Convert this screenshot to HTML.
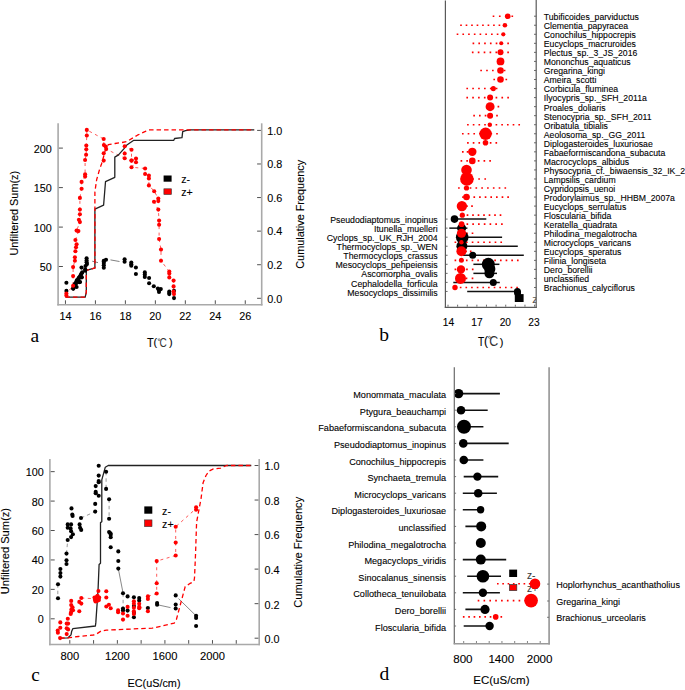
<!DOCTYPE html>
<html><head><meta charset="utf-8"><style>
html,body{margin:0;padding:0;background:#fff;}
body{width:685px;height:690px;overflow:hidden;}
svg{display:block;}
</style></head><body>
<svg width="685" height="690" viewBox="0 0 685 690">
<rect width="685" height="690" fill="#fff"/>
<line x1="58.1" y1="123.3" x2="58.1" y2="305.5" stroke="#a9a9a9" stroke-width="1.6" />
<line x1="57.3" y1="304.7" x2="262.5" y2="304.7" stroke="#a9a9a9" stroke-width="1.6" />
<line x1="261.7" y1="123.3" x2="261.7" y2="305.5" stroke="#a9a9a9" stroke-width="1.6" />
<line x1="58.9" y1="266.5" x2="62.9" y2="266.5" stroke="#505050" stroke-width="1" />
<text x="51.8" y="270.9" font-family='"Liberation Sans", sans-serif' font-size="10.8" text-anchor="end" fill="#000" stroke="#000" stroke-width="0.1" >50</text>
<line x1="58.9" y1="227.1" x2="62.9" y2="227.1" stroke="#505050" stroke-width="1" />
<text x="51.8" y="231.5" font-family='"Liberation Sans", sans-serif' font-size="10.8" text-anchor="end" fill="#000" stroke="#000" stroke-width="0.1" >100</text>
<line x1="58.9" y1="187.6" x2="62.9" y2="187.6" stroke="#505050" stroke-width="1" />
<text x="51.8" y="192" font-family='"Liberation Sans", sans-serif' font-size="10.8" text-anchor="end" fill="#000" stroke="#000" stroke-width="0.1" >150</text>
<line x1="58.9" y1="148.1" x2="62.9" y2="148.1" stroke="#505050" stroke-width="1" />
<text x="51.8" y="152.5" font-family='"Liberation Sans", sans-serif' font-size="10.8" text-anchor="end" fill="#000" stroke="#000" stroke-width="0.1" >200</text>
<line x1="257.1" y1="298.3" x2="260.9" y2="298.3" stroke="#505050" stroke-width="1" />
<text x="267.3" y="302.5" font-family='"Liberation Sans", sans-serif' font-size="10.8" text-anchor="start" fill="#000" stroke="#000" stroke-width="0.1" >0.0</text>
<line x1="257.1" y1="264.72" x2="260.9" y2="264.72" stroke="#505050" stroke-width="1" />
<text x="267.3" y="268.92" font-family='"Liberation Sans", sans-serif' font-size="10.8" text-anchor="start" fill="#000" stroke="#000" stroke-width="0.1" >0.2</text>
<line x1="257.1" y1="231.14" x2="260.9" y2="231.14" stroke="#505050" stroke-width="1" />
<text x="267.3" y="235.34" font-family='"Liberation Sans", sans-serif' font-size="10.8" text-anchor="start" fill="#000" stroke="#000" stroke-width="0.1" >0.4</text>
<line x1="257.1" y1="197.56" x2="260.9" y2="197.56" stroke="#505050" stroke-width="1" />
<text x="267.3" y="201.76" font-family='"Liberation Sans", sans-serif' font-size="10.8" text-anchor="start" fill="#000" stroke="#000" stroke-width="0.1" >0.6</text>
<line x1="257.1" y1="163.98" x2="260.9" y2="163.98" stroke="#505050" stroke-width="1" />
<text x="267.3" y="168.18" font-family='"Liberation Sans", sans-serif' font-size="10.8" text-anchor="start" fill="#000" stroke="#000" stroke-width="0.1" >0.8</text>
<line x1="257.1" y1="130.4" x2="260.9" y2="130.4" stroke="#505050" stroke-width="1" />
<text x="267.3" y="134.6" font-family='"Liberation Sans", sans-serif' font-size="10.8" text-anchor="start" fill="#000" stroke="#000" stroke-width="0.1" >1.0</text>
<line x1="65.45" y1="303.9" x2="65.45" y2="300.3" stroke="#505050" stroke-width="1" />
<text x="65.45" y="320.4" font-family='"Liberation Sans", sans-serif' font-size="10.8" text-anchor="middle" fill="#000" stroke="#000" stroke-width="0.1" >14</text>
<line x1="95.42" y1="303.9" x2="95.42" y2="300.3" stroke="#505050" stroke-width="1" />
<text x="95.42" y="320.4" font-family='"Liberation Sans", sans-serif' font-size="10.8" text-anchor="middle" fill="#000" stroke="#000" stroke-width="0.1" >16</text>
<line x1="125.39" y1="303.9" x2="125.39" y2="300.3" stroke="#505050" stroke-width="1" />
<text x="125.39" y="320.4" font-family='"Liberation Sans", sans-serif' font-size="10.8" text-anchor="middle" fill="#000" stroke="#000" stroke-width="0.1" >18</text>
<line x1="155.36" y1="303.9" x2="155.36" y2="300.3" stroke="#505050" stroke-width="1" />
<text x="155.36" y="320.4" font-family='"Liberation Sans", sans-serif' font-size="10.8" text-anchor="middle" fill="#000" stroke="#000" stroke-width="0.1" >20</text>
<line x1="185.33" y1="303.9" x2="185.33" y2="300.3" stroke="#505050" stroke-width="1" />
<text x="185.33" y="320.4" font-family='"Liberation Sans", sans-serif' font-size="10.8" text-anchor="middle" fill="#000" stroke="#000" stroke-width="0.1" >22</text>
<line x1="215.3" y1="303.9" x2="215.3" y2="300.3" stroke="#505050" stroke-width="1" />
<text x="215.3" y="320.4" font-family='"Liberation Sans", sans-serif' font-size="10.8" text-anchor="middle" fill="#000" stroke="#000" stroke-width="0.1" >24</text>
<line x1="245.27" y1="303.9" x2="245.27" y2="300.3" stroke="#505050" stroke-width="1" />
<text x="245.27" y="320.4" font-family='"Liberation Sans", sans-serif' font-size="10.8" text-anchor="middle" fill="#000" stroke="#000" stroke-width="0.1" >26</text>
<text transform="translate(18.4,213.2) rotate(-90)" font-family='"Liberation Sans", sans-serif' font-size="10.9" text-anchor="middle" fill="#000" stroke="#000" stroke-width="0.1">Unfiltered Sum(z)</text>
<text transform="translate(304.2,214.3) rotate(-90)" font-family='"Liberation Sans", sans-serif' font-size="10.9" text-anchor="middle" fill="#000" stroke="#000" stroke-width="0.1">Cumulative Frequency</text>
<polyline points="66.4,295.5 66.4,293.6 73.1,285.8 73.1,276.1 73.1,267.1 74.9,260.7 74.9,257.2 75.4,251.3 76,247.2 76.6,244.3 75.4,240 78.4,231.1 76.6,230.6 79.9,222.1 78.9,219.8 79.9,214.3 79.9,209.6 79.9,197.9 81.6,188.7 81.6,181.9 85.1,176.6 85.1,174.3 85.1,160 86.1,154.8 86.3,149.2 86.3,145.5 86.8,135.5 86.8,129.9 103.7,139 103.9,145.1 105.7,146.5 106.2,149.1 124.7,158.2 124.7,153.5 124.7,146.3 131.5,149.8 131.5,160.6 136,158.6 136,162.2 131.5,167.2 145.1,168.5 145.1,174 148.9,175.5 148.9,178.4 148.9,185.4 154.2,191.2 158.3,198.5 158.3,201.1 154,201.7 158.3,209.6 159.1,220.6 159.1,224.8 159.1,239 161,249.6 161,260.7 169.3,271.6 169.3,273.4 169.3,277.4 173.6,280.6 173.6,286.4 173.6,291.5 174,294.1" fill="none" stroke="#ff0000" stroke-width="0.65" stroke-linejoin="round" stroke-dasharray="3 3.5"/>
<polyline points="92.2,261.2 98,262.6" fill="none" stroke="#555" stroke-width="0.75" stroke-linejoin="round" />
<polyline points="110.5,259.9 119.5,261.5" fill="none" stroke="#555" stroke-width="0.75" stroke-linejoin="round" />
<polyline points="65.5,297.2 85.2,297.2 86.3,292.2 86.3,270.3 94.3,268.1 94.9,268 94.9,209.2 103.6,205.2 105.5,181.7 114.8,177.3 114.8,157.1 118.5,154.9 123.6,149.1 127.2,144.7 133.8,140.3 173.8,140.3 174.6,138.5 182,137.6 182.7,131.7 185.5,130.7 190.5,129.9 254.2,129.9" fill="none" stroke="#222" stroke-width="1.3" stroke-linejoin="round" />
<polyline points="65.5,297.2 85.2,297.2 86.3,292.2 86.3,270.3 94.3,268.1 94.9,268 94.9,191.8 96.7,179.5 99.6,169.3 101.5,164 103.5,157 105.5,149.5 108.2,144.7 115,143.5 122,142.5 126.5,141.5 129.4,140 133,137.8 137.4,135.2 146,131.1 149.5,129.9 254.2,129.9" fill="none" stroke="#ff0000" stroke-width="1.3" stroke-linejoin="round" stroke-dasharray="4.5 3"/>
<circle cx="66.4" cy="290.9" r="2.05" fill="#000"/>
<circle cx="66.4" cy="282.7" r="2.05" fill="#000"/>
<circle cx="73.1" cy="288.6" r="2.05" fill="#000"/>
<circle cx="74.6" cy="284.2" r="2.05" fill="#000"/>
<circle cx="76.8" cy="280.2" r="2.05" fill="#000"/>
<circle cx="79" cy="277.6" r="2.05" fill="#000"/>
<circle cx="80.4" cy="275.8" r="2.05" fill="#000"/>
<circle cx="81.5" cy="273.6" r="2.05" fill="#000"/>
<circle cx="85.2" cy="270.7" r="2.05" fill="#000"/>
<circle cx="85.2" cy="269.2" r="2.05" fill="#000"/>
<circle cx="85.5" cy="266" r="2.05" fill="#000"/>
<circle cx="86.6" cy="258.3" r="2.05" fill="#000"/>
<circle cx="86.6" cy="260.5" r="2.05" fill="#000"/>
<circle cx="87" cy="264.1" r="2.05" fill="#000"/>
<circle cx="86.6" cy="262.3" r="2.05" fill="#000"/>
<circle cx="103.8" cy="261.5" r="2.05" fill="#000"/>
<circle cx="106" cy="259.7" r="2.05" fill="#000"/>
<circle cx="124.6" cy="261.7" r="2.05" fill="#000"/>
<circle cx="124.6" cy="259.3" r="2.05" fill="#000"/>
<circle cx="131.3" cy="262.6" r="2.05" fill="#000"/>
<circle cx="131.3" cy="265.8" r="2.05" fill="#000"/>
<circle cx="135.9" cy="267.5" r="2.05" fill="#000"/>
<circle cx="135.9" cy="274" r="2.05" fill="#000"/>
<circle cx="144.8" cy="272.4" r="2.05" fill="#000"/>
<circle cx="144.8" cy="276.9" r="2.05" fill="#000"/>
<circle cx="149.1" cy="278" r="2.05" fill="#000"/>
<circle cx="149.1" cy="283.3" r="2.05" fill="#000"/>
<circle cx="153.8" cy="286.2" r="2.05" fill="#000"/>
<circle cx="157.9" cy="288.5" r="2.05" fill="#000"/>
<circle cx="159" cy="290.3" r="2.05" fill="#000"/>
<circle cx="160.8" cy="289.1" r="2.05" fill="#000"/>
<circle cx="159" cy="292" r="2.05" fill="#000"/>
<circle cx="169.3" cy="293" r="2.05" fill="#000"/>
<circle cx="169.3" cy="294.1" r="2.05" fill="#000"/>
<circle cx="174" cy="290.9" r="2.05" fill="#000"/>
<circle cx="174" cy="298.1" r="2.05" fill="#000"/>
<circle cx="73.9" cy="286.4" r="2.05" fill="#000"/>
<circle cx="75.7" cy="282.7" r="2.05" fill="#000"/>
<circle cx="78.2" cy="279.1" r="2.05" fill="#000"/>
<circle cx="80.1" cy="282" r="2.05" fill="#000"/>
<circle cx="81.5" cy="267.6" r="2.05" fill="#000"/>
<circle cx="103.8" cy="260.8" r="2.05" fill="#000"/>
<circle cx="103.8" cy="263" r="2.05" fill="#000"/>
<circle cx="103.8" cy="265.2" r="2.05" fill="#000"/>
<circle cx="103.8" cy="267.8" r="2.05" fill="#000"/>
<circle cx="144.8" cy="274.6" r="2.05" fill="#000"/>
<circle cx="169.3" cy="291.6" r="2.05" fill="#000"/>
<circle cx="131.3" cy="264.2" r="2.05" fill="#000"/>
<circle cx="73.4" cy="288.6" r="2.05" fill="#000"/>
<circle cx="74.66" cy="286.29" r="2.05" fill="#000"/>
<circle cx="75.91" cy="283.97" r="2.05" fill="#000"/>
<circle cx="77.17" cy="281.66" r="2.05" fill="#000"/>
<circle cx="78.43" cy="279.34" r="2.05" fill="#000"/>
<circle cx="79.69" cy="277.03" r="2.05" fill="#000"/>
<circle cx="80.94" cy="274.71" r="2.05" fill="#000"/>
<circle cx="82.2" cy="272.4" r="2.05" fill="#000"/>
<circle cx="76.62" cy="287.07" r="2.05" fill="#000"/>
<circle cx="79.26" cy="282.21" r="2.05" fill="#000"/>
<circle cx="81.9" cy="277.35" r="2.05" fill="#000"/>
<circle cx="66.4" cy="295.5" r="2.05" fill="#ff0000"/>
<circle cx="66.4" cy="293.6" r="2.05" fill="#ff0000"/>
<circle cx="73.1" cy="285.8" r="2.05" fill="#ff0000"/>
<circle cx="73.1" cy="276.1" r="2.05" fill="#ff0000"/>
<circle cx="73.1" cy="267.1" r="2.05" fill="#ff0000"/>
<circle cx="74.9" cy="260.7" r="2.05" fill="#ff0000"/>
<circle cx="74.9" cy="257.2" r="2.05" fill="#ff0000"/>
<circle cx="75.4" cy="251.3" r="2.05" fill="#ff0000"/>
<circle cx="76" cy="247.2" r="2.05" fill="#ff0000"/>
<circle cx="76.6" cy="244.3" r="2.05" fill="#ff0000"/>
<circle cx="75.4" cy="240" r="2.05" fill="#ff0000"/>
<circle cx="78.4" cy="231.1" r="2.05" fill="#ff0000"/>
<circle cx="76.6" cy="230.6" r="2.05" fill="#ff0000"/>
<circle cx="79.9" cy="222.1" r="2.05" fill="#ff0000"/>
<circle cx="78.9" cy="219.8" r="2.05" fill="#ff0000"/>
<circle cx="79.9" cy="214.3" r="2.05" fill="#ff0000"/>
<circle cx="79.9" cy="209.6" r="2.05" fill="#ff0000"/>
<circle cx="79.9" cy="197.9" r="2.05" fill="#ff0000"/>
<circle cx="81.6" cy="188.7" r="2.05" fill="#ff0000"/>
<circle cx="81.6" cy="181.9" r="2.05" fill="#ff0000"/>
<circle cx="85.1" cy="176.6" r="2.05" fill="#ff0000"/>
<circle cx="85.1" cy="174.3" r="2.05" fill="#ff0000"/>
<circle cx="85.1" cy="160" r="2.05" fill="#ff0000"/>
<circle cx="86.1" cy="154.8" r="2.05" fill="#ff0000"/>
<circle cx="86.3" cy="149.2" r="2.05" fill="#ff0000"/>
<circle cx="86.3" cy="145.5" r="2.05" fill="#ff0000"/>
<circle cx="86.8" cy="135.5" r="2.05" fill="#ff0000"/>
<circle cx="86.8" cy="129.9" r="2.05" fill="#ff0000"/>
<circle cx="103.7" cy="139" r="2.05" fill="#ff0000"/>
<circle cx="103.9" cy="145.1" r="2.05" fill="#ff0000"/>
<circle cx="105.7" cy="146.5" r="2.05" fill="#ff0000"/>
<circle cx="106.2" cy="149.1" r="2.05" fill="#ff0000"/>
<circle cx="124.7" cy="158.2" r="2.05" fill="#ff0000"/>
<circle cx="124.7" cy="153.5" r="2.05" fill="#ff0000"/>
<circle cx="124.7" cy="146.3" r="2.05" fill="#ff0000"/>
<circle cx="131.5" cy="149.8" r="2.05" fill="#ff0000"/>
<circle cx="131.5" cy="160.6" r="2.05" fill="#ff0000"/>
<circle cx="136" cy="158.6" r="2.05" fill="#ff0000"/>
<circle cx="136" cy="162.2" r="2.05" fill="#ff0000"/>
<circle cx="131.5" cy="167.2" r="2.05" fill="#ff0000"/>
<circle cx="145.1" cy="168.5" r="2.05" fill="#ff0000"/>
<circle cx="145.1" cy="174" r="2.05" fill="#ff0000"/>
<circle cx="148.9" cy="175.5" r="2.05" fill="#ff0000"/>
<circle cx="148.9" cy="178.4" r="2.05" fill="#ff0000"/>
<circle cx="148.9" cy="185.4" r="2.05" fill="#ff0000"/>
<circle cx="154.2" cy="191.2" r="2.05" fill="#ff0000"/>
<circle cx="158.3" cy="198.5" r="2.05" fill="#ff0000"/>
<circle cx="158.3" cy="201.1" r="2.05" fill="#ff0000"/>
<circle cx="154" cy="201.7" r="2.05" fill="#ff0000"/>
<circle cx="158.3" cy="209.6" r="2.05" fill="#ff0000"/>
<circle cx="159.1" cy="220.6" r="2.05" fill="#ff0000"/>
<circle cx="159.1" cy="224.8" r="2.05" fill="#ff0000"/>
<circle cx="159.1" cy="239" r="2.05" fill="#ff0000"/>
<circle cx="161" cy="249.6" r="2.05" fill="#ff0000"/>
<circle cx="161" cy="260.7" r="2.05" fill="#ff0000"/>
<circle cx="169.3" cy="271.6" r="2.05" fill="#ff0000"/>
<circle cx="169.3" cy="273.4" r="2.05" fill="#ff0000"/>
<circle cx="169.3" cy="277.4" r="2.05" fill="#ff0000"/>
<circle cx="173.6" cy="280.6" r="2.05" fill="#ff0000"/>
<circle cx="173.6" cy="286.4" r="2.05" fill="#ff0000"/>
<circle cx="173.6" cy="291.5" r="2.05" fill="#ff0000"/>
<circle cx="174" cy="294.1" r="2.05" fill="#ff0000"/>
<circle cx="103.7" cy="153.3" r="2.05" fill="#ff0000"/>
<circle cx="103.7" cy="160.6" r="2.05" fill="#ff0000"/>
<circle cx="131.5" cy="160.6" r="2.05" fill="#ff0000"/>
<rect x="163.6" y="175.5" width="8" height="6.2" fill="#000"/>
<rect x="163.9" y="188.8" width="7.5" height="5.7" fill="#ff0000" stroke="#333" stroke-width="0.6"/>
<text x="181.3" y="183.2" font-family='"Liberation Sans", sans-serif' font-size="10.6" text-anchor="start" fill="#000" stroke="#000" stroke-width="0.1" >z-</text>
<text x="181.3" y="195.5" font-family='"Liberation Sans", sans-serif' font-size="10.6" text-anchor="start" fill="#000" stroke="#000" stroke-width="0.1" >z+</text>
<line x1="49.9" y1="459" x2="49.9" y2="645.3" stroke="#a9a9a9" stroke-width="1.6" />
<line x1="49.1" y1="644.5" x2="260" y2="644.5" stroke="#a9a9a9" stroke-width="1.6" />
<line x1="259.2" y1="459" x2="259.2" y2="645.3" stroke="#a9a9a9" stroke-width="1.6" />
<line x1="50.7" y1="618.8" x2="54.7" y2="618.8" stroke="#505050" stroke-width="1" />
<text x="43.7" y="623.3" font-family='"Liberation Sans", sans-serif' font-size="10.8" text-anchor="end" fill="#000" stroke="#000" stroke-width="0.1" >0</text>
<line x1="50.7" y1="589.37" x2="54.7" y2="589.37" stroke="#505050" stroke-width="1" />
<text x="43.7" y="593.87" font-family='"Liberation Sans", sans-serif' font-size="10.8" text-anchor="end" fill="#000" stroke="#000" stroke-width="0.1" >20</text>
<line x1="50.7" y1="559.94" x2="54.7" y2="559.94" stroke="#505050" stroke-width="1" />
<text x="43.7" y="564.44" font-family='"Liberation Sans", sans-serif' font-size="10.8" text-anchor="end" fill="#000" stroke="#000" stroke-width="0.1" >40</text>
<line x1="50.7" y1="530.51" x2="54.7" y2="530.51" stroke="#505050" stroke-width="1" />
<text x="43.7" y="535.01" font-family='"Liberation Sans", sans-serif' font-size="10.8" text-anchor="end" fill="#000" stroke="#000" stroke-width="0.1" >60</text>
<line x1="50.7" y1="501.08" x2="54.7" y2="501.08" stroke="#505050" stroke-width="1" />
<text x="43.7" y="505.58" font-family='"Liberation Sans", sans-serif' font-size="10.8" text-anchor="end" fill="#000" stroke="#000" stroke-width="0.1" >80</text>
<line x1="50.7" y1="471.65" x2="54.7" y2="471.65" stroke="#505050" stroke-width="1" />
<text x="43.7" y="476.15" font-family='"Liberation Sans", sans-serif' font-size="10.8" text-anchor="end" fill="#000" stroke="#000" stroke-width="0.1" >100</text>
<line x1="254.6" y1="638.2" x2="258.4" y2="638.2" stroke="#505050" stroke-width="1" />
<text x="264.6" y="643.1" font-family='"Liberation Sans", sans-serif' font-size="10.8" text-anchor="start" fill="#000" stroke="#000" stroke-width="0.1" >0.0</text>
<line x1="254.6" y1="603.66" x2="258.4" y2="603.66" stroke="#505050" stroke-width="1" />
<text x="264.6" y="608.56" font-family='"Liberation Sans", sans-serif' font-size="10.8" text-anchor="start" fill="#000" stroke="#000" stroke-width="0.1" >0.2</text>
<line x1="254.6" y1="569.12" x2="258.4" y2="569.12" stroke="#505050" stroke-width="1" />
<text x="264.6" y="574.02" font-family='"Liberation Sans", sans-serif' font-size="10.8" text-anchor="start" fill="#000" stroke="#000" stroke-width="0.1" >0.4</text>
<line x1="254.6" y1="534.58" x2="258.4" y2="534.58" stroke="#505050" stroke-width="1" />
<text x="264.6" y="539.48" font-family='"Liberation Sans", sans-serif' font-size="10.8" text-anchor="start" fill="#000" stroke="#000" stroke-width="0.1" >0.6</text>
<line x1="254.6" y1="500.04" x2="258.4" y2="500.04" stroke="#505050" stroke-width="1" />
<text x="264.6" y="504.94" font-family='"Liberation Sans", sans-serif' font-size="10.8" text-anchor="start" fill="#000" stroke="#000" stroke-width="0.1" >0.8</text>
<line x1="254.6" y1="465.5" x2="258.4" y2="465.5" stroke="#505050" stroke-width="1" />
<text x="264.6" y="470.4" font-family='"Liberation Sans", sans-serif' font-size="10.8" text-anchor="start" fill="#000" stroke="#000" stroke-width="0.1" >1.0</text>
<line x1="69.8" y1="643.7" x2="69.8" y2="640.1" stroke="#505050" stroke-width="1" />
<text x="69.8" y="660.1" font-family='"Liberation Sans", sans-serif' font-size="11.2" text-anchor="middle" fill="#000" stroke="#000" stroke-width="0.1" >800</text>
<line x1="93.58" y1="643.7" x2="93.58" y2="640.1" stroke="#505050" stroke-width="1" />
<line x1="117.36" y1="643.7" x2="117.36" y2="640.1" stroke="#505050" stroke-width="1" />
<text x="117.36" y="660.1" font-family='"Liberation Sans", sans-serif' font-size="11.2" text-anchor="middle" fill="#000" stroke="#000" stroke-width="0.1" >1200</text>
<line x1="141.14" y1="643.7" x2="141.14" y2="640.1" stroke="#505050" stroke-width="1" />
<line x1="164.92" y1="643.7" x2="164.92" y2="640.1" stroke="#505050" stroke-width="1" />
<text x="164.92" y="660.1" font-family='"Liberation Sans", sans-serif' font-size="11.2" text-anchor="middle" fill="#000" stroke="#000" stroke-width="0.1" >1600</text>
<line x1="188.7" y1="643.7" x2="188.7" y2="640.1" stroke="#505050" stroke-width="1" />
<line x1="212.48" y1="643.7" x2="212.48" y2="640.1" stroke="#505050" stroke-width="1" />
<text x="212.48" y="660.1" font-family='"Liberation Sans", sans-serif' font-size="11.2" text-anchor="middle" fill="#000" stroke="#000" stroke-width="0.1" >2000</text>
<line x1="236.26" y1="643.7" x2="236.26" y2="640.1" stroke="#505050" stroke-width="1" />
<text transform="translate(8.8,551.2) rotate(-90)" font-family='"Liberation Sans", sans-serif' font-size="11.1" text-anchor="middle" fill="#000" stroke="#000" stroke-width="0.1">Unfiltered Sum(z)</text>
<text transform="translate(301.9,552.3) rotate(-90)" font-family='"Liberation Sans", sans-serif' font-size="11.1" text-anchor="middle" fill="#000" stroke="#000" stroke-width="0.1">Cumulative Frequency</text>
<polyline points="81.3,598 95.8,598.8" fill="none" stroke="#ff0000" stroke-width="0.65" stroke-linejoin="round" stroke-dasharray="3 3.5"/>
<polyline points="139.2,606.9 147.9,608.5" fill="none" stroke="#ff0000" stroke-width="0.65" stroke-linejoin="round" stroke-dasharray="3 3.5"/>
<polyline points="147.9,596.4 156.7,593.5 156.7,561.1 175.7,555.5 175.7,526.8 196.1,508.5" fill="none" stroke="#ff0000" stroke-width="0.65" stroke-linejoin="round" stroke-dasharray="3 3.5"/>
<polyline points="57.8,584.2 57.8,598.1" fill="none" stroke="#808080" stroke-width="0.8" stroke-linejoin="round" stroke-dasharray="3.5 3"/>
<polyline points="66.5,553.6 67.7,540" fill="none" stroke="#808080" stroke-width="0.8" stroke-linejoin="round" stroke-dasharray="3.5 3"/>
<polyline points="81,518 95.2,511.6" fill="none" stroke="#808080" stroke-width="0.8" stroke-linejoin="round" stroke-dasharray="3.5 3"/>
<polyline points="106.1,471.8 106.1,488.9" fill="none" stroke="#808080" stroke-width="0.8" stroke-linejoin="round" stroke-dasharray="3.5 3"/>
<polyline points="109.1,499.3 109.1,518.8" fill="none" stroke="#808080" stroke-width="0.8" stroke-linejoin="round" stroke-dasharray="3.5 3"/>
<polyline points="123.1,593.3 123.1,608.6" fill="none" stroke="#808080" stroke-width="0.8" stroke-linejoin="round" stroke-dasharray="3.5 3"/>
<polyline points="60.4,569 60.4,576.6" fill="none" stroke="#808080" stroke-width="0.8" stroke-linejoin="round" stroke-dasharray="3.5 3"/>
<polyline points="66.5,560.3 66.5,564" fill="none" stroke="#808080" stroke-width="0.8" stroke-linejoin="round" stroke-dasharray="3.5 3"/>
<polyline points="118.3,568.6 123.1,593.3" fill="none" stroke="#555" stroke-width="0.7" stroke-linejoin="round" />
<polyline points="157.1,604.7 170.5,607.6" fill="none" stroke="#555" stroke-width="0.7" stroke-linejoin="round" />
<polyline points="178.5,598.6 196.1,615.8" fill="none" stroke="#555" stroke-width="0.7" stroke-linejoin="round" />
<polyline points="60.1,638.1 68.1,637.8 71,634.9 71.7,631.2 72.8,628.7 95.4,626 95.8,622.9 97.5,598 98.1,588.6 99.1,564.5 100.5,563.2 100.5,522.6 101.8,521.7 101.8,479.9 105.3,467.2 108.2,465.5 251.3,465.5" fill="none" stroke="#222" stroke-width="1.3" stroke-linejoin="round" />
<polyline points="60.1,638.1 67.8,637.9 78.3,636.5 93.2,635 95.5,634.6 101.3,630.9 106.3,630.2 133.4,628.9 152.3,628.2 174.2,623.1 176.4,619.5 185.2,586.6 189.6,583.7 193.9,581.5 194.5,578 195.5,555 196.6,522.2 201,498.8 203.1,482.7 206,475.5 209,471.1 213.4,468.9 220.7,468.1 226.5,465.5 251.3,465.5" fill="none" stroke="#ff0000" stroke-width="1.3" stroke-linejoin="round" stroke-dasharray="4.5 3"/>
<circle cx="98.7" cy="465.7" r="2.05" fill="#000"/>
<circle cx="98.7" cy="475.6" r="2.05" fill="#000"/>
<circle cx="98.7" cy="481.1" r="2.05" fill="#000"/>
<circle cx="98.7" cy="482.2" r="2.05" fill="#000"/>
<circle cx="95.7" cy="486.1" r="2.05" fill="#000"/>
<circle cx="95.7" cy="491.9" r="2.05" fill="#000"/>
<circle cx="95.7" cy="493.3" r="2.05" fill="#000"/>
<circle cx="98.7" cy="495.8" r="2.05" fill="#000"/>
<circle cx="95.2" cy="503.9" r="2.05" fill="#000"/>
<circle cx="95.2" cy="511.6" r="2.05" fill="#000"/>
<circle cx="106.1" cy="471.8" r="2.05" fill="#000"/>
<circle cx="106.1" cy="488.9" r="2.05" fill="#000"/>
<circle cx="109.1" cy="499.3" r="2.05" fill="#000"/>
<circle cx="109.1" cy="518.8" r="2.05" fill="#000"/>
<circle cx="109.1" cy="532.1" r="2.05" fill="#000"/>
<circle cx="110.5" cy="533.3" r="2.05" fill="#000"/>
<circle cx="110.7" cy="534.7" r="2.05" fill="#000"/>
<circle cx="110.7" cy="537.3" r="2.05" fill="#000"/>
<circle cx="110.7" cy="547.3" r="2.05" fill="#000"/>
<circle cx="118.3" cy="551.4" r="2.05" fill="#000"/>
<circle cx="118.3" cy="561" r="2.05" fill="#000"/>
<circle cx="118.3" cy="568.6" r="2.05" fill="#000"/>
<circle cx="71.5" cy="508.4" r="2.05" fill="#000"/>
<circle cx="72.3" cy="514.5" r="2.05" fill="#000"/>
<circle cx="72.6" cy="516" r="2.05" fill="#000"/>
<circle cx="81" cy="518" r="2.05" fill="#000"/>
<circle cx="79.6" cy="524.4" r="2.05" fill="#000"/>
<circle cx="80.1" cy="527.8" r="2.05" fill="#000"/>
<circle cx="81.2" cy="529.9" r="2.05" fill="#000"/>
<circle cx="67.7" cy="524.4" r="2.05" fill="#000"/>
<circle cx="71.1" cy="524.4" r="2.05" fill="#000"/>
<circle cx="67.7" cy="527.8" r="2.05" fill="#000"/>
<circle cx="70.6" cy="528.4" r="2.05" fill="#000"/>
<circle cx="71.1" cy="531.3" r="2.05" fill="#000"/>
<circle cx="72.9" cy="534.2" r="2.05" fill="#000"/>
<circle cx="71.1" cy="537.1" r="2.05" fill="#000"/>
<circle cx="67.7" cy="540" r="2.05" fill="#000"/>
<circle cx="66.5" cy="553.6" r="2.05" fill="#000"/>
<circle cx="66.5" cy="560.3" r="2.05" fill="#000"/>
<circle cx="66.5" cy="564" r="2.05" fill="#000"/>
<circle cx="60.4" cy="569" r="2.05" fill="#000"/>
<circle cx="60.4" cy="573.1" r="2.05" fill="#000"/>
<circle cx="60.4" cy="576.6" r="2.05" fill="#000"/>
<circle cx="58" cy="584.2" r="2.05" fill="#000"/>
<circle cx="58" cy="598.2" r="2.05" fill="#000"/>
<circle cx="123" cy="593.3" r="2.05" fill="#000"/>
<circle cx="127.6" cy="596.4" r="2.05" fill="#000"/>
<circle cx="133.9" cy="597.3" r="2.05" fill="#000"/>
<circle cx="139.2" cy="598" r="2.05" fill="#000"/>
<circle cx="139.2" cy="600.6" r="2.05" fill="#000"/>
<circle cx="123" cy="608.6" r="2.05" fill="#000"/>
<circle cx="123" cy="610.4" r="2.05" fill="#000"/>
<circle cx="127.6" cy="610.6" r="2.05" fill="#000"/>
<circle cx="133.9" cy="606" r="2.05" fill="#000"/>
<circle cx="133.9" cy="613" r="2.05" fill="#000"/>
<circle cx="133.9" cy="617.2" r="2.05" fill="#000"/>
<circle cx="147.9" cy="608" r="2.05" fill="#000"/>
<circle cx="157.1" cy="603" r="2.05" fill="#000"/>
<circle cx="157.1" cy="604.7" r="2.05" fill="#000"/>
<circle cx="175.7" cy="595.4" r="2.05" fill="#000"/>
<circle cx="175.7" cy="604.6" r="2.05" fill="#000"/>
<circle cx="175.7" cy="608.5" r="2.05" fill="#000"/>
<circle cx="196.1" cy="615.8" r="2.05" fill="#000"/>
<circle cx="196.1" cy="618" r="2.05" fill="#000"/>
<circle cx="196.1" cy="626" r="2.05" fill="#000"/>
<circle cx="60.3" cy="622.4" r="2.05" fill="#ff0000"/>
<circle cx="60.3" cy="627.7" r="2.05" fill="#ff0000"/>
<circle cx="57.7" cy="630.6" r="2.05" fill="#ff0000"/>
<circle cx="57.9" cy="632.8" r="2.05" fill="#ff0000"/>
<circle cx="60.1" cy="638.1" r="2.05" fill="#ff0000"/>
<circle cx="67.8" cy="618.8" r="2.05" fill="#ff0000"/>
<circle cx="66.7" cy="623.6" r="2.05" fill="#ff0000"/>
<circle cx="68.1" cy="623.6" r="2.05" fill="#ff0000"/>
<circle cx="66.7" cy="628.3" r="2.05" fill="#ff0000"/>
<circle cx="68.1" cy="629.4" r="2.05" fill="#ff0000"/>
<circle cx="66.7" cy="634.1" r="2.05" fill="#ff0000"/>
<circle cx="71.2" cy="600.9" r="2.05" fill="#ff0000"/>
<circle cx="71.2" cy="605.1" r="2.05" fill="#ff0000"/>
<circle cx="72.5" cy="607.3" r="2.05" fill="#ff0000"/>
<circle cx="71.4" cy="609.5" r="2.05" fill="#ff0000"/>
<circle cx="73" cy="610.2" r="2.05" fill="#ff0000"/>
<circle cx="71" cy="612.4" r="2.05" fill="#ff0000"/>
<circle cx="70.7" cy="614" r="2.05" fill="#ff0000"/>
<circle cx="81.3" cy="598" r="2.05" fill="#ff0000"/>
<circle cx="79.3" cy="601.9" r="2.05" fill="#ff0000"/>
<circle cx="81.3" cy="603.6" r="2.05" fill="#ff0000"/>
<circle cx="79.3" cy="611.3" r="2.05" fill="#ff0000"/>
<circle cx="97.5" cy="598.4" r="2.05" fill="#ff0000"/>
<circle cx="95.8" cy="598.8" r="2.05" fill="#ff0000"/>
<circle cx="98.4" cy="591" r="2.05" fill="#ff0000"/>
<circle cx="97.5" cy="595.8" r="2.05" fill="#ff0000"/>
<circle cx="98.9" cy="600.1" r="2.05" fill="#ff0000"/>
<circle cx="94.9" cy="599.7" r="2.05" fill="#ff0000"/>
<circle cx="96.5" cy="597" r="2.05" fill="#ff0000"/>
<circle cx="94.5" cy="597.5" r="2.05" fill="#ff0000"/>
<circle cx="97" cy="601" r="2.05" fill="#ff0000"/>
<circle cx="95.5" cy="601.5" r="2.05" fill="#ff0000"/>
<circle cx="99.2" cy="597.5" r="2.05" fill="#ff0000"/>
<circle cx="106.3" cy="591.2" r="2.05" fill="#ff0000"/>
<circle cx="106.3" cy="597.5" r="2.05" fill="#ff0000"/>
<circle cx="106.3" cy="606.5" r="2.05" fill="#ff0000"/>
<circle cx="108.9" cy="604.7" r="2.05" fill="#ff0000"/>
<circle cx="110.7" cy="608.2" r="2.05" fill="#ff0000"/>
<circle cx="118.1" cy="610.4" r="2.05" fill="#ff0000"/>
<circle cx="118.1" cy="612.2" r="2.05" fill="#ff0000"/>
<circle cx="123" cy="613.5" r="2.05" fill="#ff0000"/>
<circle cx="123" cy="619.6" r="2.05" fill="#ff0000"/>
<circle cx="127.6" cy="606.9" r="2.05" fill="#ff0000"/>
<circle cx="127.6" cy="615.7" r="2.05" fill="#ff0000"/>
<circle cx="133.9" cy="601.2" r="2.05" fill="#ff0000"/>
<circle cx="133.9" cy="603.8" r="2.05" fill="#ff0000"/>
<circle cx="133.9" cy="607.8" r="2.05" fill="#ff0000"/>
<circle cx="133.9" cy="611.3" r="2.05" fill="#ff0000"/>
<circle cx="133.9" cy="613.9" r="2.05" fill="#ff0000"/>
<circle cx="139.2" cy="603.8" r="2.05" fill="#ff0000"/>
<circle cx="139.2" cy="606.9" r="2.05" fill="#ff0000"/>
<circle cx="139.2" cy="608.2" r="2.05" fill="#ff0000"/>
<circle cx="147.9" cy="596.4" r="2.05" fill="#ff0000"/>
<circle cx="147.9" cy="599" r="2.05" fill="#ff0000"/>
<circle cx="147.9" cy="611.3" r="2.05" fill="#ff0000"/>
<circle cx="156.7" cy="593.5" r="2.05" fill="#ff0000"/>
<circle cx="156.7" cy="583.2" r="2.05" fill="#ff0000"/>
<circle cx="156.7" cy="561.1" r="2.05" fill="#ff0000"/>
<circle cx="175.7" cy="555.5" r="2.05" fill="#ff0000"/>
<circle cx="175.7" cy="542.6" r="2.05" fill="#ff0000"/>
<circle cx="175.7" cy="526.8" r="2.05" fill="#ff0000"/>
<circle cx="196.1" cy="507.3" r="2.05" fill="#ff0000"/>
<circle cx="196.1" cy="509.7" r="2.05" fill="#ff0000"/>
<rect x="144.3" y="506.4" width="8" height="7.3" fill="#000"/>
<rect x="144.5" y="519.9" width="7.5" height="6.7" fill="#ff0000" stroke="#333" stroke-width="0.6"/>
<text x="162.1" y="514.8" font-family='"Liberation Sans", sans-serif' font-size="10.6" text-anchor="start" fill="#000" stroke="#000" stroke-width="0.1" >z-</text>
<text x="162.1" y="527.8" font-family='"Liberation Sans", sans-serif' font-size="10.6" text-anchor="start" fill="#000" stroke="#000" stroke-width="0.1" >z+</text>
<defs><clipPath id="cb"><rect x="445.4" y="0" width="90.8" height="307.3"/></clipPath></defs>
<g clip-path="url(#cb)">
<rect x="514.8" y="294.1" width="8.8" height="7.9" fill="#000"/>
<circle cx="517.6" cy="293" r="3.4" fill="#000"/>
<text x="532.3" y="303" font-family='"Liberation Sans", sans-serif' font-size="11.5" text-anchor="start" fill="#555" stroke="#555" stroke-width="0.1" >z</text>
</g>
<line x1="454.5" y1="219.1" x2="486.3" y2="219.1" stroke="#111" stroke-width="1.5" />
<line x1="449.3" y1="228.14" x2="467.4" y2="228.14" stroke="#111" stroke-width="1.5" />
<line x1="462.2" y1="237.19" x2="502.1" y2="237.19" stroke="#111" stroke-width="1.5" />
<line x1="461.9" y1="246.23" x2="517.8" y2="246.23" stroke="#111" stroke-width="1.5" />
<line x1="463" y1="255.27" x2="523.8" y2="255.27" stroke="#111" stroke-width="1.5" />
<line x1="473.4" y1="264.31" x2="499.4" y2="264.31" stroke="#111" stroke-width="1.5" />
<line x1="473.4" y1="273.36" x2="497" y2="273.36" stroke="#111" stroke-width="1.5" />
<line x1="453.3" y1="282.4" x2="499.8" y2="282.4" stroke="#111" stroke-width="1.5" />
<line x1="467.2" y1="291.44" x2="517.4" y2="291.44" stroke="#111" stroke-width="1.5" />
<path d="M492.68,15.38h1.65v1.65h-1.65zM498.94,15.38h1.65v1.65h-1.65zM505.21,15.38h1.65v1.65h-1.65zM511.47,15.38h1.65v1.65h-1.65z" fill="#ff0000"/>
<path d="M460.18,24.42h1.65v1.65h-1.65zM465.66,24.42h1.65v1.65h-1.65zM471.15,24.42h1.65v1.65h-1.65zM476.64,24.42h1.65v1.65h-1.65zM482.12,24.42h1.65v1.65h-1.65zM487.61,24.42h1.65v1.65h-1.65zM493.1,24.42h1.65v1.65h-1.65zM498.59,24.42h1.65v1.65h-1.65zM504.07,24.42h1.65v1.65h-1.65z" fill="#ff0000"/>
<path d="M456.68,33.46h1.65v1.65h-1.65zM462.4,33.46h1.65v1.65h-1.65zM468.12,33.46h1.65v1.65h-1.65zM473.85,33.46h1.65v1.65h-1.65zM479.57,33.46h1.65v1.65h-1.65zM485.3,33.46h1.65v1.65h-1.65zM491.03,33.46h1.65v1.65h-1.65zM496.75,33.46h1.65v1.65h-1.65zM502.48,33.46h1.65v1.65h-1.65z" fill="#ff0000"/>
<path d="M472.57,42.5h1.65v1.65h-1.65zM478.36,42.5h1.65v1.65h-1.65zM484.14,42.5h1.65v1.65h-1.65zM489.93,42.5h1.65v1.65h-1.65zM495.71,42.5h1.65v1.65h-1.65zM501.49,42.5h1.65v1.65h-1.65zM507.28,42.5h1.65v1.65h-1.65z" fill="#ff0000"/>
<path d="M471.88,51.55h1.65v1.65h-1.65zM477.78,51.55h1.65v1.65h-1.65zM483.68,51.55h1.65v1.65h-1.65zM489.57,51.55h1.65v1.65h-1.65zM495.48,51.55h1.65v1.65h-1.65zM501.38,51.55h1.65v1.65h-1.65zM507.28,51.55h1.65v1.65h-1.65z" fill="#ff0000"/>
<path d="M480.28,69.63h1.65v1.65h-1.65zM486.15,69.63h1.65v1.65h-1.65zM492.03,69.63h1.65v1.65h-1.65zM497.9,69.63h1.65v1.65h-1.65zM503.78,69.63h1.65v1.65h-1.65z" fill="#ff0000"/>
<path d="M493.38,78.68h1.65v1.65h-1.65zM499.43,78.68h1.65v1.65h-1.65zM505.48,78.68h1.65v1.65h-1.65z" fill="#ff0000"/>
<path d="M466.38,87.72h1.65v1.65h-1.65zM472.25,87.72h1.65v1.65h-1.65zM478.13,87.72h1.65v1.65h-1.65zM484.02,87.72h1.65v1.65h-1.65zM489.9,87.72h1.65v1.65h-1.65zM495.78,87.72h1.65v1.65h-1.65z" fill="#ff0000"/>
<path d="M466.38,96.76h1.65v1.65h-1.65zM472.22,96.76h1.65v1.65h-1.65zM478.06,96.76h1.65v1.65h-1.65zM483.9,96.76h1.65v1.65h-1.65zM489.75,96.76h1.65v1.65h-1.65zM495.59,96.76h1.65v1.65h-1.65zM501.43,96.76h1.65v1.65h-1.65zM507.28,96.76h1.65v1.65h-1.65z" fill="#ff0000"/>
<path d="M489.28,105.8h1.65v1.65h-1.65zM497.57,105.8h1.65v1.65h-1.65z" fill="#ff0000"/>
<path d="M473.28,114.85h1.65v1.65h-1.65zM479,114.85h1.65v1.65h-1.65zM484.73,114.85h1.65v1.65h-1.65zM490.45,114.85h1.65v1.65h-1.65zM496.18,114.85h1.65v1.65h-1.65z" fill="#ff0000"/>
<path d="M467.07,123.89h1.65v1.65h-1.65zM472.77,123.89h1.65v1.65h-1.65zM478.48,123.89h1.65v1.65h-1.65zM484.18,123.89h1.65v1.65h-1.65zM489.88,123.89h1.65v1.65h-1.65zM495.58,123.89h1.65v1.65h-1.65zM501.28,123.89h1.65v1.65h-1.65zM506.98,123.89h1.65v1.65h-1.65zM512.67,123.89h1.65v1.65h-1.65zM518.38,123.89h1.65v1.65h-1.65z" fill="#ff0000"/>
<path d="M461.98,132.93h1.65v1.65h-1.65zM467.68,132.93h1.65v1.65h-1.65zM473.38,132.93h1.65v1.65h-1.65zM479.07,132.93h1.65v1.65h-1.65zM484.78,132.93h1.65v1.65h-1.65zM490.48,132.93h1.65v1.65h-1.65zM496.18,132.93h1.65v1.65h-1.65z" fill="#ff0000"/>
<path d="M467.07,141.98h1.65v1.65h-1.65zM472.75,141.98h1.65v1.65h-1.65zM478.44,141.98h1.65v1.65h-1.65zM484.12,141.98h1.65v1.65h-1.65zM489.8,141.98h1.65v1.65h-1.65zM495.48,141.98h1.65v1.65h-1.65z" fill="#ff0000"/>
<path d="M461.98,151.02h1.65v1.65h-1.65zM466.73,151.02h1.65v1.65h-1.65zM471.48,151.02h1.65v1.65h-1.65z" fill="#ff0000"/>
<path d="M460.57,160.06h1.65v1.65h-1.65zM466.31,160.06h1.65v1.65h-1.65zM472.06,160.06h1.65v1.65h-1.65zM477.8,160.06h1.65v1.65h-1.65zM483.54,160.06h1.65v1.65h-1.65zM489.28,160.06h1.65v1.65h-1.65z" fill="#ff0000"/>
<path d="M466.07,178.15h1.65v1.65h-1.65zM472.18,178.15h1.65v1.65h-1.65zM478.27,178.15h1.65v1.65h-1.65zM484.38,178.15h1.65v1.65h-1.65z" fill="#ff0000"/>
<path d="M458.07,187.19h1.65v1.65h-1.65zM463.88,187.19h1.65v1.65h-1.65zM469.68,187.19h1.65v1.65h-1.65zM475.48,187.19h1.65v1.65h-1.65zM481.28,187.19h1.65v1.65h-1.65zM487.07,187.19h1.65v1.65h-1.65zM492.88,187.19h1.65v1.65h-1.65zM498.68,187.19h1.65v1.65h-1.65zM504.48,187.19h1.65v1.65h-1.65z" fill="#ff0000"/>
<path d="M462.18,196.23h1.65v1.65h-1.65zM467.81,196.23h1.65v1.65h-1.65zM473.45,196.23h1.65v1.65h-1.65zM479.09,196.23h1.65v1.65h-1.65zM484.73,196.23h1.65v1.65h-1.65zM490.36,196.23h1.65v1.65h-1.65zM496,196.23h1.65v1.65h-1.65zM501.64,196.23h1.65v1.65h-1.65zM507.28,196.23h1.65v1.65h-1.65z" fill="#ff0000"/>
<path d="M461.07,205.28h1.65v1.65h-1.65zM466.12,205.28h1.65v1.65h-1.65zM471.18,205.28h1.65v1.65h-1.65z" fill="#ff0000"/>
<path d="M461.18,214.32h1.65v1.65h-1.65zM466.68,214.32h1.65v1.65h-1.65zM472.18,214.32h1.65v1.65h-1.65zM477.68,214.32h1.65v1.65h-1.65zM483.18,214.32h1.65v1.65h-1.65zM488.68,214.32h1.65v1.65h-1.65zM494.18,214.32h1.65v1.65h-1.65zM499.68,214.32h1.65v1.65h-1.65z" fill="#ff0000"/>
<path d="M460.78,223.36h1.65v1.65h-1.65zM466.53,223.36h1.65v1.65h-1.65zM472.29,223.36h1.65v1.65h-1.65zM478.05,223.36h1.65v1.65h-1.65zM483.8,223.36h1.65v1.65h-1.65zM489.56,223.36h1.65v1.65h-1.65zM495.32,223.36h1.65v1.65h-1.65zM501.07,223.36h1.65v1.65h-1.65z" fill="#ff0000"/>
<path d="M460.68,232.41h1.65v1.65h-1.65zM466.18,232.41h1.65v1.65h-1.65zM471.68,232.41h1.65v1.65h-1.65z" fill="#ff0000"/>
<path d="M454.57,241.45h1.65v1.65h-1.65zM460.3,241.45h1.65v1.65h-1.65zM466.02,241.45h1.65v1.65h-1.65zM471.75,241.45h1.65v1.65h-1.65zM477.47,241.45h1.65v1.65h-1.65zM483.2,241.45h1.65v1.65h-1.65zM488.93,241.45h1.65v1.65h-1.65zM494.65,241.45h1.65v1.65h-1.65zM500.38,241.45h1.65v1.65h-1.65z" fill="#ff0000"/>
<path d="M460.57,250.49h1.65v1.65h-1.65zM465.22,250.49h1.65v1.65h-1.65zM469.88,250.49h1.65v1.65h-1.65z" fill="#ff0000"/>
<path d="M454.57,259.54h1.65v1.65h-1.65zM460.25,259.54h1.65v1.65h-1.65zM465.92,259.54h1.65v1.65h-1.65zM471.59,259.54h1.65v1.65h-1.65zM477.27,259.54h1.65v1.65h-1.65zM482.94,259.54h1.65v1.65h-1.65zM488.61,259.54h1.65v1.65h-1.65zM494.28,259.54h1.65v1.65h-1.65zM499.96,259.54h1.65v1.65h-1.65zM505.63,259.54h1.65v1.65h-1.65zM511.3,259.54h1.65v1.65h-1.65zM516.97,259.54h1.65v1.65h-1.65z" fill="#ff0000"/>
<path d="M454.57,268.58h1.65v1.65h-1.65zM460.34,268.58h1.65v1.65h-1.65zM466.11,268.58h1.65v1.65h-1.65zM471.88,268.58h1.65v1.65h-1.65z" fill="#ff0000"/>
<path d="M459.68,277.62h1.65v1.65h-1.65zM465.68,277.62h1.65v1.65h-1.65zM471.68,277.62h1.65v1.65h-1.65z" fill="#ff0000"/>
<path d="M454.18,286.66h1.65v1.65h-1.65zM459.82,286.66h1.65v1.65h-1.65zM465.47,286.66h1.65v1.65h-1.65zM471.11,286.66h1.65v1.65h-1.65zM476.76,286.66h1.65v1.65h-1.65zM482.4,286.66h1.65v1.65h-1.65zM488.05,286.66h1.65v1.65h-1.65zM493.69,286.66h1.65v1.65h-1.65zM499.34,286.66h1.65v1.65h-1.65zM504.98,286.66h1.65v1.65h-1.65zM510.63,286.66h1.65v1.65h-1.65zM516.27,286.66h1.65v1.65h-1.65z" fill="#ff0000"/>
<circle cx="454.5" cy="219.1" r="3.8" fill="#000"/>
<circle cx="461.6" cy="228.14" r="4.5" fill="#000"/>
<circle cx="462.2" cy="237.19" r="6.3" fill="#000"/>
<circle cx="461.9" cy="246.23" r="5.5" fill="#000"/>
<circle cx="472.7" cy="255.27" r="3.5" fill="#000"/>
<circle cx="488.3" cy="264.31" r="6.5" fill="#000"/>
<circle cx="489.4" cy="273.36" r="5" fill="#000"/>
<circle cx="493.3" cy="282.4" r="3.5" fill="#000"/>
<circle cx="517.4" cy="291.44" r="3.5" fill="#000"/>
<circle cx="489.8" cy="269" r="5.6" fill="#000"/>
<circle cx="507.7" cy="16.2" r="2.8" fill="#ff0000"/>
<circle cx="504.9" cy="25.24" r="2.3" fill="#ff0000"/>
<circle cx="503.3" cy="34.29" r="2.1" fill="#ff0000"/>
<circle cx="501.2" cy="43.33" r="2" fill="#ff0000"/>
<circle cx="500.5" cy="52.37" r="3" fill="#ff0000"/>
<circle cx="500.5" cy="61.41" r="3.9" fill="#ff0000"/>
<circle cx="500.5" cy="70.46" r="3.3" fill="#ff0000"/>
<circle cx="500.5" cy="79.5" r="3.3" fill="#ff0000"/>
<circle cx="493.3" cy="88.54" r="2.6" fill="#ff0000"/>
<circle cx="490.1" cy="97.59" r="3" fill="#ff0000"/>
<circle cx="490.1" cy="106.63" r="4.5" fill="#ff0000"/>
<circle cx="490.1" cy="115.67" r="3" fill="#ff0000"/>
<circle cx="489.8" cy="124.72" r="2.2" fill="#ff0000"/>
<circle cx="485.6" cy="133.76" r="6.2" fill="#ff0000"/>
<circle cx="485.5" cy="142.8" r="2.8" fill="#ff0000"/>
<circle cx="472.3" cy="151.84" r="4.2" fill="#ff0000"/>
<circle cx="472.3" cy="160.89" r="3.3" fill="#ff0000"/>
<circle cx="466.5" cy="169.93" r="5.3" fill="#ff0000"/>
<circle cx="466.9" cy="178.97" r="6.8" fill="#ff0000"/>
<circle cx="466.5" cy="188.02" r="2.6" fill="#ff0000"/>
<circle cx="466.5" cy="197.06" r="3.3" fill="#ff0000"/>
<circle cx="461.9" cy="206.1" r="5.2" fill="#ff0000"/>
<circle cx="462.3" cy="215.15" r="2.6" fill="#ff0000"/>
<circle cx="461.6" cy="224.19" r="2.9" fill="#ff0000"/>
<circle cx="461.5" cy="233.23" r="4.6" fill="#ff0000"/>
<circle cx="461.4" cy="242.27" r="2.2" fill="#ff0000"/>
<circle cx="461.4" cy="251.32" r="5" fill="#ff0000"/>
<circle cx="461.4" cy="260.36" r="2.5" fill="#ff0000"/>
<circle cx="461" cy="269.4" r="4.2" fill="#ff0000"/>
<circle cx="460.5" cy="278.45" r="5.5" fill="#ff0000"/>
<circle cx="455" cy="287.49" r="2.7" fill="#ff0000"/>
<line x1="445.4" y1="0.5" x2="445.4" y2="307.9" stroke="#5a5a5a" stroke-width="1.2" />
<line x1="536.2" y1="0" x2="536.2" y2="307.9" stroke="#5a5a5a" stroke-width="1.2" />
<line x1="444.8" y1="307.3" x2="536.8" y2="307.3" stroke="#5a5a5a" stroke-width="1.3" />
<line x1="448" y1="306.7" x2="448" y2="304.7" stroke="#5a5a5a" stroke-width="0.9" />
<line x1="457.62" y1="306.7" x2="457.62" y2="304.7" stroke="#5a5a5a" stroke-width="0.9" />
<line x1="467.24" y1="306.7" x2="467.24" y2="304.7" stroke="#5a5a5a" stroke-width="0.9" />
<line x1="476.86" y1="306.7" x2="476.86" y2="304.7" stroke="#5a5a5a" stroke-width="0.9" />
<line x1="486.48" y1="306.7" x2="486.48" y2="304.7" stroke="#5a5a5a" stroke-width="0.9" />
<line x1="496.1" y1="306.7" x2="496.1" y2="304.7" stroke="#5a5a5a" stroke-width="0.9" />
<line x1="505.72" y1="306.7" x2="505.72" y2="304.7" stroke="#5a5a5a" stroke-width="0.9" />
<line x1="515.34" y1="306.7" x2="515.34" y2="304.7" stroke="#5a5a5a" stroke-width="0.9" />
<line x1="524.96" y1="306.7" x2="524.96" y2="304.7" stroke="#5a5a5a" stroke-width="0.9" />
<line x1="534.58" y1="306.7" x2="534.58" y2="304.7" stroke="#5a5a5a" stroke-width="0.9" />
<text x="448.4" y="325.6" font-family='"Liberation Sans", sans-serif' font-size="10.2" text-anchor="middle" fill="#000" stroke="#000" stroke-width="0.1" >14</text>
<text x="477" y="325.6" font-family='"Liberation Sans", sans-serif' font-size="10.2" text-anchor="middle" fill="#000" stroke="#000" stroke-width="0.1" >17</text>
<text x="505.3" y="325.6" font-family='"Liberation Sans", sans-serif' font-size="10.2" text-anchor="middle" fill="#000" stroke="#000" stroke-width="0.1" >20</text>
<text x="534" y="325.6" font-family='"Liberation Sans", sans-serif' font-size="10.2" text-anchor="middle" fill="#000" stroke="#000" stroke-width="0.1" >23</text>
<line x1="534" y1="16.2" x2="536.2" y2="16.2" stroke="#5a5a5a" stroke-width="0.9" />
<text x="543.8" y="20.1" font-family='"Liberation Sans", sans-serif' font-size="8.68" text-anchor="start" fill="#000" stroke="#000" stroke-width="0.1" >Tubificoides_parviductus</text>
<line x1="534" y1="25.24" x2="536.2" y2="25.24" stroke="#5a5a5a" stroke-width="0.9" />
<text x="543.8" y="29.14" font-family='"Liberation Sans", sans-serif' font-size="8.68" text-anchor="start" fill="#000" stroke="#000" stroke-width="0.1" >Clementia_papyracea</text>
<line x1="534" y1="34.29" x2="536.2" y2="34.29" stroke="#5a5a5a" stroke-width="0.9" />
<text x="543.8" y="38.19" font-family='"Liberation Sans", sans-serif' font-size="8.68" text-anchor="start" fill="#000" stroke="#000" stroke-width="0.1" >Conochilus_hippocrepis</text>
<line x1="534" y1="43.33" x2="536.2" y2="43.33" stroke="#5a5a5a" stroke-width="0.9" />
<text x="543.8" y="47.23" font-family='"Liberation Sans", sans-serif' font-size="8.68" text-anchor="start" fill="#000" stroke="#000" stroke-width="0.1" >Eucyclops_macruroides</text>
<line x1="534" y1="52.37" x2="536.2" y2="52.37" stroke="#5a5a5a" stroke-width="0.9" />
<text x="543.8" y="56.27" font-family='"Liberation Sans", sans-serif' font-size="8.68" text-anchor="start" fill="#000" stroke="#000" stroke-width="0.1" >Plectus_sp._3_JS_2016</text>
<line x1="534" y1="61.41" x2="536.2" y2="61.41" stroke="#5a5a5a" stroke-width="0.9" />
<text x="543.8" y="65.31" font-family='"Liberation Sans", sans-serif' font-size="8.68" text-anchor="start" fill="#000" stroke="#000" stroke-width="0.1" >Mononchus_aquaticus</text>
<line x1="534" y1="70.46" x2="536.2" y2="70.46" stroke="#5a5a5a" stroke-width="0.9" />
<text x="543.8" y="74.36" font-family='"Liberation Sans", sans-serif' font-size="8.68" text-anchor="start" fill="#000" stroke="#000" stroke-width="0.1" >Gregarina_kingi</text>
<line x1="534" y1="79.5" x2="536.2" y2="79.5" stroke="#5a5a5a" stroke-width="0.9" />
<text x="543.8" y="83.4" font-family='"Liberation Sans", sans-serif' font-size="8.68" text-anchor="start" fill="#000" stroke="#000" stroke-width="0.1" >Ameira_scotti</text>
<line x1="534" y1="88.54" x2="536.2" y2="88.54" stroke="#5a5a5a" stroke-width="0.9" />
<text x="543.8" y="92.44" font-family='"Liberation Sans", sans-serif' font-size="8.68" text-anchor="start" fill="#000" stroke="#000" stroke-width="0.1" >Corbicula_fluminea</text>
<line x1="534" y1="97.59" x2="536.2" y2="97.59" stroke="#5a5a5a" stroke-width="0.9" />
<text x="543.8" y="101.49" font-family='"Liberation Sans", sans-serif' font-size="8.68" text-anchor="start" fill="#000" stroke="#000" stroke-width="0.1" >Ilyocypris_sp._SFH_2011a</text>
<line x1="534" y1="106.63" x2="536.2" y2="106.63" stroke="#5a5a5a" stroke-width="0.9" />
<text x="543.8" y="110.53" font-family='"Liberation Sans", sans-serif' font-size="8.68" text-anchor="start" fill="#000" stroke="#000" stroke-width="0.1" >Proales_doliaris</text>
<line x1="534" y1="115.67" x2="536.2" y2="115.67" stroke="#5a5a5a" stroke-width="0.9" />
<text x="543.8" y="119.57" font-family='"Liberation Sans", sans-serif' font-size="8.68" text-anchor="start" fill="#000" stroke="#000" stroke-width="0.1" >Stenocypria_sp._SFH_2011</text>
<line x1="534" y1="124.72" x2="536.2" y2="124.72" stroke="#5a5a5a" stroke-width="0.9" />
<text x="543.8" y="128.62" font-family='"Liberation Sans", sans-serif' font-size="8.68" text-anchor="start" fill="#000" stroke="#000" stroke-width="0.1" >Oribatula_tibialis</text>
<line x1="534" y1="133.76" x2="536.2" y2="133.76" stroke="#5a5a5a" stroke-width="0.9" />
<text x="543.8" y="137.66" font-family='"Liberation Sans", sans-serif' font-size="8.68" text-anchor="start" fill="#000" stroke="#000" stroke-width="0.1" >Aeolosoma_sp._GG_2011</text>
<line x1="534" y1="142.8" x2="536.2" y2="142.8" stroke="#5a5a5a" stroke-width="0.9" />
<text x="543.8" y="146.7" font-family='"Liberation Sans", sans-serif' font-size="8.68" text-anchor="start" fill="#000" stroke="#000" stroke-width="0.1" >Diplogasteroides_luxuriosae</text>
<line x1="534" y1="151.84" x2="536.2" y2="151.84" stroke="#5a5a5a" stroke-width="0.9" />
<text x="543.8" y="155.74" font-family='"Liberation Sans", sans-serif' font-size="8.68" text-anchor="start" fill="#000" stroke="#000" stroke-width="0.1" >Fabaeformiscandona_subacuta</text>
<line x1="534" y1="160.89" x2="536.2" y2="160.89" stroke="#5a5a5a" stroke-width="0.9" />
<text x="543.8" y="164.79" font-family='"Liberation Sans", sans-serif' font-size="8.68" text-anchor="start" fill="#000" stroke="#000" stroke-width="0.1" >Macrocyclops_albidus</text>
<line x1="534" y1="169.93" x2="536.2" y2="169.93" stroke="#5a5a5a" stroke-width="0.9" />
<text x="543.8" y="173.83" font-family='"Liberation Sans", sans-serif' font-size="8.68" text-anchor="start" fill="#000" stroke="#000" stroke-width="0.1" >Physocypria_cf._biwaensis_32_IK_2</text>
<line x1="534" y1="178.97" x2="536.2" y2="178.97" stroke="#5a5a5a" stroke-width="0.9" />
<text x="543.8" y="182.87" font-family='"Liberation Sans", sans-serif' font-size="8.68" text-anchor="start" fill="#000" stroke="#000" stroke-width="0.1" >Lampsilis_cardium</text>
<line x1="534" y1="188.02" x2="536.2" y2="188.02" stroke="#5a5a5a" stroke-width="0.9" />
<text x="543.8" y="191.92" font-family='"Liberation Sans", sans-serif' font-size="8.68" text-anchor="start" fill="#000" stroke="#000" stroke-width="0.1" >Cypridopsis_uenoi</text>
<line x1="534" y1="197.06" x2="536.2" y2="197.06" stroke="#5a5a5a" stroke-width="0.9" />
<text x="543.8" y="200.96" font-family='"Liberation Sans", sans-serif' font-size="8.68" text-anchor="start" fill="#000" stroke="#000" stroke-width="0.1" >Prodorylaimus_sp._HHBM_2007a</text>
<line x1="534" y1="206.1" x2="536.2" y2="206.1" stroke="#5a5a5a" stroke-width="0.9" />
<text x="543.8" y="210" font-family='"Liberation Sans", sans-serif' font-size="8.68" text-anchor="start" fill="#000" stroke="#000" stroke-width="0.1" >Eucyclops_serrulatus</text>
<line x1="534" y1="215.15" x2="536.2" y2="215.15" stroke="#5a5a5a" stroke-width="0.9" />
<text x="543.8" y="219.05" font-family='"Liberation Sans", sans-serif' font-size="8.68" text-anchor="start" fill="#000" stroke="#000" stroke-width="0.1" >Floscularia_bifida</text>
<line x1="534" y1="224.19" x2="536.2" y2="224.19" stroke="#5a5a5a" stroke-width="0.9" />
<text x="543.8" y="228.09" font-family='"Liberation Sans", sans-serif' font-size="8.68" text-anchor="start" fill="#000" stroke="#000" stroke-width="0.1" >Keratella_quadrata</text>
<line x1="534" y1="233.23" x2="536.2" y2="233.23" stroke="#5a5a5a" stroke-width="0.9" />
<text x="543.8" y="237.13" font-family='"Liberation Sans", sans-serif' font-size="8.68" text-anchor="start" fill="#000" stroke="#000" stroke-width="0.1" >Philodina_megalotrocha</text>
<line x1="534" y1="242.27" x2="536.2" y2="242.27" stroke="#5a5a5a" stroke-width="0.9" />
<text x="543.8" y="246.17" font-family='"Liberation Sans", sans-serif' font-size="8.68" text-anchor="start" fill="#000" stroke="#000" stroke-width="0.1" >Microcyclops_varicans</text>
<line x1="534" y1="251.32" x2="536.2" y2="251.32" stroke="#5a5a5a" stroke-width="0.9" />
<text x="543.8" y="255.22" font-family='"Liberation Sans", sans-serif' font-size="8.68" text-anchor="start" fill="#000" stroke="#000" stroke-width="0.1" >Eucyclops_speratus</text>
<line x1="534" y1="260.36" x2="536.2" y2="260.36" stroke="#5a5a5a" stroke-width="0.9" />
<text x="543.8" y="264.26" font-family='"Liberation Sans", sans-serif' font-size="8.68" text-anchor="start" fill="#000" stroke="#000" stroke-width="0.1" >Filinia_longiseta</text>
<line x1="534" y1="269.4" x2="536.2" y2="269.4" stroke="#5a5a5a" stroke-width="0.9" />
<text x="543.8" y="273.3" font-family='"Liberation Sans", sans-serif' font-size="8.68" text-anchor="start" fill="#000" stroke="#000" stroke-width="0.1" >Dero_borellii</text>
<line x1="534" y1="278.45" x2="536.2" y2="278.45" stroke="#5a5a5a" stroke-width="0.9" />
<text x="543.8" y="282.35" font-family='"Liberation Sans", sans-serif' font-size="8.68" text-anchor="start" fill="#000" stroke="#000" stroke-width="0.1" >unclassified</text>
<line x1="534" y1="287.49" x2="536.2" y2="287.49" stroke="#5a5a5a" stroke-width="0.9" />
<text x="543.8" y="291.39" font-family='"Liberation Sans", sans-serif' font-size="8.68" text-anchor="start" fill="#000" stroke="#000" stroke-width="0.1" >Brachionus_calyciflorus</text>
<line x1="445.4" y1="219.1" x2="447.6" y2="219.1" stroke="#5a5a5a" stroke-width="0.9" />
<text x="437.7" y="223.2" font-family='"Liberation Sans", sans-serif' font-size="8.76" text-anchor="end" fill="#000" stroke="#000" stroke-width="0.1" >Pseudodiaptomus_inopinus</text>
<line x1="445.4" y1="228.14" x2="447.6" y2="228.14" stroke="#5a5a5a" stroke-width="0.9" />
<text x="437.7" y="232.24" font-family='"Liberation Sans", sans-serif' font-size="8.76" text-anchor="end" fill="#000" stroke="#000" stroke-width="0.1" >Itunella_muelleri</text>
<line x1="445.4" y1="237.19" x2="447.6" y2="237.19" stroke="#5a5a5a" stroke-width="0.9" />
<text x="437.7" y="241.29" font-family='"Liberation Sans", sans-serif' font-size="8.76" text-anchor="end" fill="#000" stroke="#000" stroke-width="0.1" >Cyclops_sp._UK_RJH_2004</text>
<line x1="445.4" y1="246.23" x2="447.6" y2="246.23" stroke="#5a5a5a" stroke-width="0.9" />
<text x="437.7" y="250.33" font-family='"Liberation Sans", sans-serif' font-size="8.76" text-anchor="end" fill="#000" stroke="#000" stroke-width="0.1" >Thermocyclops_sp._WEN</text>
<line x1="445.4" y1="255.27" x2="447.6" y2="255.27" stroke="#5a5a5a" stroke-width="0.9" />
<text x="437.7" y="259.37" font-family='"Liberation Sans", sans-serif' font-size="8.76" text-anchor="end" fill="#000" stroke="#000" stroke-width="0.1" >Thermocyclops_crassus</text>
<line x1="445.4" y1="264.31" x2="447.6" y2="264.31" stroke="#5a5a5a" stroke-width="0.9" />
<text x="437.7" y="268.42" font-family='"Liberation Sans", sans-serif' font-size="8.76" text-anchor="end" fill="#000" stroke="#000" stroke-width="0.1" >Mesocyclops_pehpeiensis</text>
<line x1="445.4" y1="273.36" x2="447.6" y2="273.36" stroke="#5a5a5a" stroke-width="0.9" />
<text x="437.7" y="277.46" font-family='"Liberation Sans", sans-serif' font-size="8.76" text-anchor="end" fill="#000" stroke="#000" stroke-width="0.1" >Ascomorpha_ovalis</text>
<line x1="445.4" y1="282.4" x2="447.6" y2="282.4" stroke="#5a5a5a" stroke-width="0.9" />
<text x="437.7" y="286.5" font-family='"Liberation Sans", sans-serif' font-size="8.76" text-anchor="end" fill="#000" stroke="#000" stroke-width="0.1" >Cephalodella_forficula</text>
<line x1="445.4" y1="291.44" x2="447.6" y2="291.44" stroke="#5a5a5a" stroke-width="0.9" />
<text x="437.7" y="295.54" font-family='"Liberation Sans", sans-serif' font-size="8.76" text-anchor="end" fill="#000" stroke="#000" stroke-width="0.1" >Mesocyclops_dissimilis</text>
<text transform="translate(477.98,345.6) scale(0.81,1)" font-family='"Liberation Sans", sans-serif' font-size="12.5" fill="#000" stroke="#000" stroke-width="0.12">T</text>
<text transform="translate(483.95,345.41) scale(1,1)" font-family='"Liberation Sans", sans-serif' font-size="12.02" fill="#000" stroke="#000" stroke-width="0.1">(</text>
<circle cx="489.4" cy="337.3" r="1" fill="none" stroke="#444" stroke-width="0.65"/>
<text transform="translate(489.28,346.46) scale(0.87,1)" font-family='"Liberation Sans", sans-serif' font-size="14.27" fill="#333">C</text>
<text transform="translate(499.75,345.63) scale(1,1)" font-family='"Liberation Sans", sans-serif' font-size="10.94" fill="#000" stroke="#000" stroke-width="0.1">)</text>
<text x="379.3" y="341" font-family='"Liberation Serif", serif' font-size="19.5" text-anchor="start" fill="#000" >b</text>
<defs><clipPath id="cd"><rect x="454.3" y="360" width="94.8" height="283.4"/></clipPath></defs>
<g clip-path="url(#cd)">
<line x1="458.6" y1="393.6" x2="499.9" y2="393.6" stroke="#111" stroke-width="1.6" />
<line x1="461" y1="410.2" x2="487.7" y2="410.2" stroke="#111" stroke-width="1.6" />
<line x1="464" y1="426.8" x2="483.4" y2="426.8" stroke="#111" stroke-width="1.6" />
<line x1="463.3" y1="443.4" x2="508.7" y2="443.4" stroke="#111" stroke-width="1.6" />
<line x1="463.8" y1="460" x2="483.4" y2="460" stroke="#111" stroke-width="1.6" />
<line x1="463.7" y1="476.6" x2="498.2" y2="476.6" stroke="#111" stroke-width="1.6" />
<line x1="462.8" y1="493.2" x2="496.9" y2="493.2" stroke="#111" stroke-width="1.6" />
<line x1="462.8" y1="509.8" x2="480.6" y2="509.8" stroke="#111" stroke-width="1.6" />
<line x1="465.4" y1="526.4" x2="481.2" y2="526.4" stroke="#111" stroke-width="1.6" />
<line x1="462.8" y1="559.6" x2="506.2" y2="559.6" stroke="#111" stroke-width="1.6" />
<line x1="467.2" y1="576.2" x2="501" y2="576.2" stroke="#111" stroke-width="1.6" />
<line x1="462.8" y1="592.8" x2="499.9" y2="592.8" stroke="#111" stroke-width="1.6" />
<line x1="465.4" y1="609.4" x2="485" y2="609.4" stroke="#111" stroke-width="1.6" />
<line x1="463.7" y1="626" x2="489.6" y2="626" stroke="#111" stroke-width="1.6" />
<path d="M496.98,582.88h1.65v1.65h-1.65zM502.29,582.88h1.65v1.65h-1.65zM507.6,582.88h1.65v1.65h-1.65zM512.92,582.88h1.65v1.65h-1.65zM518.23,582.88h1.65v1.65h-1.65zM523.55,582.88h1.65v1.65h-1.65zM528.86,582.88h1.65v1.65h-1.65zM534.17,582.88h1.65v1.65h-1.65z" fill="#ff0000"/>
<path d="M477.68,599.77h1.65v1.65h-1.65zM483.52,599.77h1.65v1.65h-1.65zM489.36,599.77h1.65v1.65h-1.65zM495.21,599.77h1.65v1.65h-1.65zM501.05,599.77h1.65v1.65h-1.65zM506.9,599.77h1.65v1.65h-1.65zM512.74,599.77h1.65v1.65h-1.65zM518.59,599.77h1.65v1.65h-1.65zM524.43,599.77h1.65v1.65h-1.65zM530.27,599.77h1.65v1.65h-1.65z" fill="#ff0000"/>
<path d="M462.88,616.07h1.65v1.65h-1.65zM468.25,616.07h1.65v1.65h-1.65zM473.62,616.07h1.65v1.65h-1.65zM478.99,616.07h1.65v1.65h-1.65zM484.36,616.07h1.65v1.65h-1.65zM489.73,616.07h1.65v1.65h-1.65zM495.1,616.07h1.65v1.65h-1.65zM500.48,616.07h1.65v1.65h-1.65z" fill="#ff0000"/>
<circle cx="458.6" cy="393.6" r="4.7" fill="#000"/>
<circle cx="461" cy="410.2" r="4.3" fill="#000"/>
<circle cx="464" cy="426.8" r="7" fill="#000"/>
<circle cx="463.3" cy="443.4" r="4.3" fill="#000"/>
<circle cx="463.8" cy="460" r="4.3" fill="#000"/>
<circle cx="477.4" cy="476.6" r="4.2" fill="#000"/>
<circle cx="478.2" cy="493.2" r="4.3" fill="#000"/>
<circle cx="480.6" cy="509.8" r="3.7" fill="#000"/>
<circle cx="481.2" cy="526.4" r="5" fill="#000"/>
<circle cx="480.8" cy="543" r="5" fill="#000"/>
<circle cx="480.8" cy="559.6" r="5" fill="#000"/>
<circle cx="482.9" cy="576.2" r="6.3" fill="#000"/>
<circle cx="482.9" cy="592.8" r="4.2" fill="#000"/>
<circle cx="485" cy="609.4" r="4.6" fill="#000"/>
<circle cx="489.6" cy="626" r="4.2" fill="#000"/>
<rect x="509.2" y="569.6" width="7.9" height="7.4" fill="#000"/>
<rect x="509.5" y="584.6" width="7.3" height="6.0" fill="#ff0000" stroke="#333" stroke-width="0.7"/>
<text x="527" y="579.3" font-family='"Liberation Sans", sans-serif' font-size="10.2" text-anchor="start" fill="#3a3a3a" stroke="#3a3a3a" stroke-width="0.1" >z-</text>
<text x="527" y="592.3" font-family='"Liberation Sans", sans-serif' font-size="10.2" text-anchor="start" fill="#3a3a3a" stroke="#3a3a3a" stroke-width="0.1" >z+</text>
<circle cx="535" cy="583.7" r="5.3" fill="#ff0000"/>
<circle cx="531.1" cy="600.6" r="6.8" fill="#ff0000"/>
<circle cx="495.7" cy="616.9" r="2.8" fill="#ff0000"/>
</g>
<line x1="454.3" y1="367.2" x2="454.3" y2="644.3" stroke="#6a6a6a" stroke-width="1.2" />
<line x1="549.1" y1="367.2" x2="549.1" y2="644.5" stroke="#9a9a9a" stroke-width="1.7" />
<line x1="453.7" y1="643.7" x2="549.9" y2="643.7" stroke="#9a9a9a" stroke-width="1.6" />
<line x1="463.7" y1="642.9" x2="463.7" y2="641.1" stroke="#666" stroke-width="0.9" />
<line x1="476.45" y1="642.9" x2="476.45" y2="641.1" stroke="#666" stroke-width="0.9" />
<line x1="489.2" y1="642.9" x2="489.2" y2="641.1" stroke="#666" stroke-width="0.9" />
<line x1="501.95" y1="642.9" x2="501.95" y2="641.1" stroke="#666" stroke-width="0.9" />
<line x1="514.7" y1="642.9" x2="514.7" y2="641.1" stroke="#666" stroke-width="0.9" />
<line x1="527.45" y1="642.9" x2="527.45" y2="641.1" stroke="#666" stroke-width="0.9" />
<line x1="540.2" y1="642.9" x2="540.2" y2="641.1" stroke="#666" stroke-width="0.9" />
<text x="462.9" y="663.2" font-family='"Liberation Sans", sans-serif' font-size="11.6" text-anchor="middle" fill="#000" stroke="#000" stroke-width="0.1" >800</text>
<text x="501.3" y="663.2" font-family='"Liberation Sans", sans-serif' font-size="11.6" text-anchor="middle" fill="#000" stroke="#000" stroke-width="0.1" >1400</text>
<text x="539.6" y="663.2" font-family='"Liberation Sans", sans-serif' font-size="11.6" text-anchor="middle" fill="#000" stroke="#000" stroke-width="0.1" >2000</text>
<text x="501.4" y="683.8" font-family='"Liberation Sans", sans-serif' font-size="11.5" text-anchor="middle" fill="#000" stroke="#000" stroke-width="0.1" >EC(uS/cm)</text>
<line x1="454.3" y1="393.6" x2="456.1" y2="393.6" stroke="#666" stroke-width="0.9" />
<text x="446.1" y="398.2" font-family='"Liberation Sans", sans-serif' font-size="9.15" text-anchor="end" fill="#000" stroke="#000" stroke-width="0.1" >Monommata_maculata</text>
<line x1="454.3" y1="410.2" x2="456.1" y2="410.2" stroke="#666" stroke-width="0.9" />
<text x="446.1" y="414.8" font-family='"Liberation Sans", sans-serif' font-size="9.15" text-anchor="end" fill="#000" stroke="#000" stroke-width="0.1" >Ptygura_beauchampi</text>
<line x1="454.3" y1="426.8" x2="456.1" y2="426.8" stroke="#666" stroke-width="0.9" />
<text x="446.1" y="431.4" font-family='"Liberation Sans", sans-serif' font-size="9.15" text-anchor="end" fill="#000" stroke="#000" stroke-width="0.1" >Fabaeformiscandona_subacuta</text>
<line x1="454.3" y1="443.4" x2="456.1" y2="443.4" stroke="#666" stroke-width="0.9" />
<text x="446.1" y="448" font-family='"Liberation Sans", sans-serif' font-size="9.15" text-anchor="end" fill="#000" stroke="#000" stroke-width="0.1" >Pseudodiaptomus_inopinus</text>
<line x1="454.3" y1="460" x2="456.1" y2="460" stroke="#666" stroke-width="0.9" />
<text x="446.1" y="464.6" font-family='"Liberation Sans", sans-serif' font-size="9.15" text-anchor="end" fill="#000" stroke="#000" stroke-width="0.1" >Conochilus_hippocrepis</text>
<line x1="454.3" y1="476.6" x2="456.1" y2="476.6" stroke="#666" stroke-width="0.9" />
<text x="446.1" y="481.2" font-family='"Liberation Sans", sans-serif' font-size="9.15" text-anchor="end" fill="#000" stroke="#000" stroke-width="0.1" >Synchaeta_tremula</text>
<line x1="454.3" y1="493.2" x2="456.1" y2="493.2" stroke="#666" stroke-width="0.9" />
<text x="446.1" y="497.8" font-family='"Liberation Sans", sans-serif' font-size="9.15" text-anchor="end" fill="#000" stroke="#000" stroke-width="0.1" >Microcyclops_varicans</text>
<line x1="454.3" y1="509.8" x2="456.1" y2="509.8" stroke="#666" stroke-width="0.9" />
<text x="446.1" y="514.4" font-family='"Liberation Sans", sans-serif' font-size="9.15" text-anchor="end" fill="#000" stroke="#000" stroke-width="0.1" >Diplogasteroides_luxuriosae</text>
<line x1="454.3" y1="526.4" x2="456.1" y2="526.4" stroke="#666" stroke-width="0.9" />
<text x="446.1" y="531" font-family='"Liberation Sans", sans-serif' font-size="9.15" text-anchor="end" fill="#000" stroke="#000" stroke-width="0.1" >unclassified</text>
<line x1="454.3" y1="543" x2="456.1" y2="543" stroke="#666" stroke-width="0.9" />
<text x="446.1" y="547.6" font-family='"Liberation Sans", sans-serif' font-size="9.15" text-anchor="end" fill="#000" stroke="#000" stroke-width="0.1" >Philodina_megalotrocha</text>
<line x1="454.3" y1="559.6" x2="456.1" y2="559.6" stroke="#666" stroke-width="0.9" />
<text x="446.1" y="564.2" font-family='"Liberation Sans", sans-serif' font-size="9.15" text-anchor="end" fill="#000" stroke="#000" stroke-width="0.1" >Megacyclops_viridis</text>
<line x1="454.3" y1="576.2" x2="456.1" y2="576.2" stroke="#666" stroke-width="0.9" />
<text x="446.1" y="580.8" font-family='"Liberation Sans", sans-serif' font-size="9.15" text-anchor="end" fill="#000" stroke="#000" stroke-width="0.1" >Sinocalanus_sinensis</text>
<line x1="454.3" y1="592.8" x2="456.1" y2="592.8" stroke="#666" stroke-width="0.9" />
<text x="446.1" y="597.4" font-family='"Liberation Sans", sans-serif' font-size="9.15" text-anchor="end" fill="#000" stroke="#000" stroke-width="0.1" >Collotheca_tenuilobata</text>
<line x1="454.3" y1="609.4" x2="456.1" y2="609.4" stroke="#666" stroke-width="0.9" />
<text x="446.1" y="614" font-family='"Liberation Sans", sans-serif' font-size="9.15" text-anchor="end" fill="#000" stroke="#000" stroke-width="0.1" >Dero_borellii</text>
<line x1="454.3" y1="626" x2="456.1" y2="626" stroke="#666" stroke-width="0.9" />
<text x="446.1" y="630.6" font-family='"Liberation Sans", sans-serif' font-size="9.15" text-anchor="end" fill="#000" stroke="#000" stroke-width="0.1" >Floscularia_bifida</text>
<line x1="547.1" y1="584.1" x2="549.1" y2="584.1" stroke="#666" stroke-width="0.9" />
<text x="556.2" y="588" font-family='"Liberation Sans", sans-serif' font-size="9.05" text-anchor="start" fill="#000" stroke="#000" stroke-width="0.1" >Hoplorhynchus_acanthatholius</text>
<line x1="547.1" y1="601" x2="549.1" y2="601" stroke="#666" stroke-width="0.9" />
<text x="556.2" y="604.9" font-family='"Liberation Sans", sans-serif' font-size="9.05" text-anchor="start" fill="#000" stroke="#000" stroke-width="0.1" >Gregarina_kingi</text>
<line x1="547.1" y1="617.3" x2="549.1" y2="617.3" stroke="#666" stroke-width="0.9" />
<text x="556.2" y="621.2" font-family='"Liberation Sans", sans-serif' font-size="9.05" text-anchor="start" fill="#000" stroke="#000" stroke-width="0.1" >Brachionus_urceolaris</text>
<text x="379.6" y="679.7" font-family='"Liberation Serif", serif' font-size="19.5" text-anchor="start" fill="#000" >d</text>
<text x="30.6" y="342" font-family='"Liberation Serif", serif' font-size="19.5" text-anchor="start" fill="#000" >a</text>
<text transform="translate(146.96,346.6) scale(0.9,1)" font-family='"Liberation Sans", sans-serif' font-size="12.21" fill="#000" stroke="#000" stroke-width="0.11">T</text>
<text transform="translate(153.53,346.36) scale(1,1)" font-family='"Liberation Sans", sans-serif' font-size="10.84" fill="#000" stroke="#000" stroke-width="0.1">(</text>
<circle cx="159.1" cy="339.7" r="0.95" fill="none" stroke="#444" stroke-width="0.65"/>
<text transform="translate(159.4,346.78) scale(0.82,1)" font-family='"Liberation Sans", sans-serif' font-size="12.29" fill="#333">C</text>
<text transform="translate(169.05,346.36) scale(1,1)" font-family='"Liberation Sans", sans-serif' font-size="10.84" fill="#000" stroke="#000" stroke-width="0.1">)</text>
<text x="31.2" y="680.6" font-family='"Liberation Serif", serif' font-size="19.2" text-anchor="start" fill="#000" >c</text>
<text x="154" y="687.4" font-family='"Liberation Sans", sans-serif' font-size="10.85" text-anchor="middle" fill="#000" stroke="#000" stroke-width="0.1" >EC(uS/cm)</text>
</svg>
</body></html>
